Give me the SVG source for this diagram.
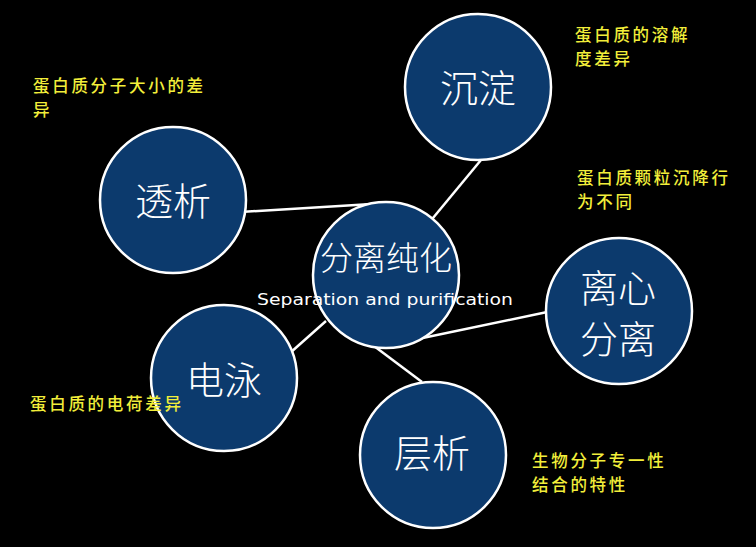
<svg xmlns="http://www.w3.org/2000/svg" width="756" height="547" viewBox="0 0 756 547">
<style>
.node{fill:#0c3a6d;stroke:#ffffff;stroke-width:2.5}
.lbl{font-family:"Noto Sans CJK SC","Noto Sans CJK JP",sans-serif;font-weight:300;fill:#ffffff;font-size:38px;text-anchor:middle}
.note{font-family:"Noto Sans CJK SC",sans-serif;font-weight:500;fill:#f2ee3a;font-size:16.5px;letter-spacing:2.7px}
.conn line{stroke:#ffffff;stroke-width:2.5}
</style>
<rect width="756" height="547" fill="#000000"/>
<g id="connectors" class="conn">
<line x1="240" y1="212" x2="372" y2="204"/>
<line x1="481" y1="160" x2="428" y2="224"/>
<line x1="552" y1="311" x2="413" y2="340"/>
<line x1="290" y1="353" x2="326" y2="321"/>
<line x1="374" y1="346" x2="422" y2="382"/>
</g>
<g id="node-toushi">
<circle class="node" cx="173" cy="200" r="73"/>
<text class="lbl" x="173" y="215">透析</text>
</g>
<g id="node-chendian">
<circle class="node" cx="478" cy="87" r="73"/>
<text class="lbl" x="478" y="102">沉淀</text>
</g>
<g id="node-center">
<circle class="node" cx="386" cy="275" r="73"/>
<text class="lbl" x="386" y="270" style="font-size:33px">分离纯化</text>
<text x="385" y="305" style="font-family:'DejaVu Sans',sans-serif;font-size:16px;fill:#ffffff;text-anchor:middle" textLength="256" lengthAdjust="spacingAndGlyphs">Separation and purification</text>
</g>
<g id="node-lixin">
<circle class="node" cx="619" cy="311" r="73"/>
<text class="lbl" x="618" y="302">离心</text>
<text class="lbl" x="618" y="353">分离</text>
</g>
<g id="node-dianyong">
<circle class="node" cx="224" cy="378" r="73"/>
<text class="lbl" x="224" y="394">电泳</text>
</g>
<g id="node-cengxi">
<circle class="node" cx="433" cy="455" r="73"/>
<text class="lbl" x="432" y="467">层析</text>
</g>
<g id="notes">
<text class="note"><tspan x="33" y="92">蛋白质分子大小的差</tspan><tspan x="33" y="116">异</tspan></text>
<text class="note"><tspan x="575" y="41">蛋白质的溶解</tspan><tspan x="575" y="65">度差异</tspan></text>
<text class="note"><tspan x="577" y="184">蛋白质颗粒沉降行</tspan><tspan x="577" y="208">为不同</tspan></text>
<text class="note" x="30" y="410">蛋白质的电荷差异</text>
<text class="note"><tspan x="532" y="467">生物分子专一性</tspan><tspan x="532" y="491">结合的特性</tspan></text>
</g>
</svg>
